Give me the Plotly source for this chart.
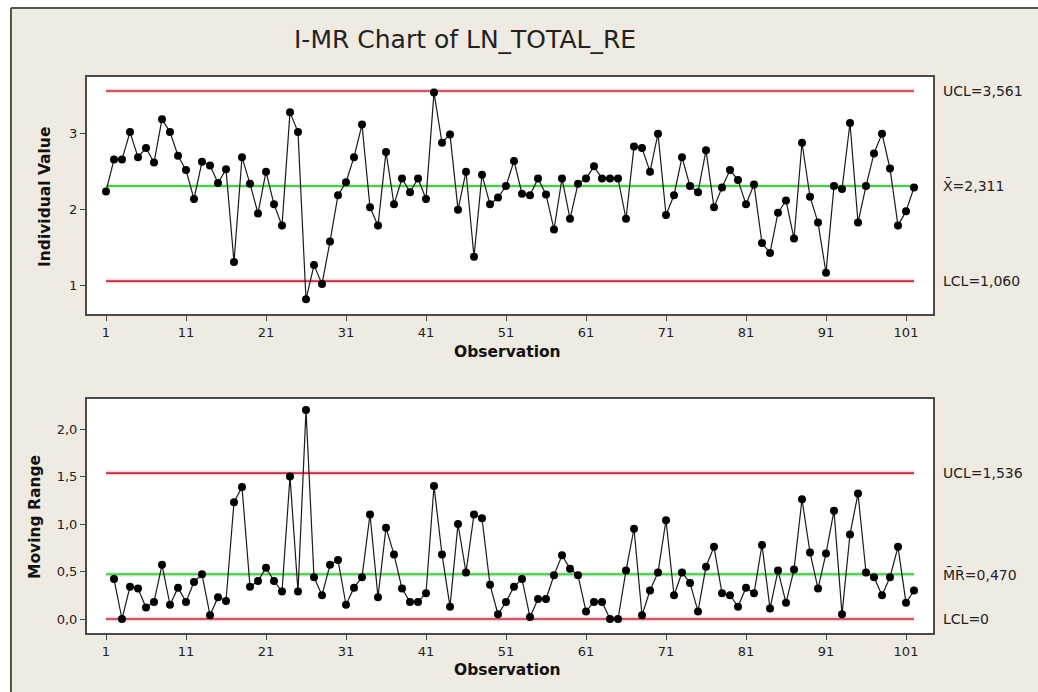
import plotly.graph_objects as go

# ---------------- data ----------------
observations = list(range(1, 103))

individual_values = [
    2.24, 2.66, 2.66, 3.02, 2.69, 2.81, 2.62, 3.19, 3.02, 2.71,
    2.52, 2.14, 2.63, 2.58, 2.35, 2.53, 1.31, 2.69, 2.34, 1.95,
    2.50, 2.07, 1.79, 3.28, 3.02, 0.82, 1.27, 1.02, 1.58, 2.19,
    2.36, 2.69, 3.12, 2.03, 1.79, 2.76, 2.07, 2.41, 2.23, 2.41,
    2.14, 3.54, 2.88, 2.99, 2.00, 2.50, 1.38, 2.46, 2.07, 2.16,
    2.31, 2.64, 2.21, 2.19, 2.41, 2.20, 1.74, 2.41, 1.88, 2.34,
    2.41, 2.57, 2.41, 2.41, 2.41, 1.88, 2.83, 2.81, 2.50, 3.00,
    1.93, 2.19, 2.69, 2.31, 2.23, 2.78, 2.03, 2.29, 2.52, 2.39,
    2.07, 2.33, 1.56, 1.43, 1.96, 2.12, 1.62, 2.88, 2.17, 1.83,
    1.17, 2.31, 2.27, 3.14, 1.83, 2.31, 2.74, 3.00, 2.54, 1.79,
    1.98, 2.29,
]

moving_ranges = [
    0.42, 0.00, 0.34, 0.32, 0.12, 0.18, 0.57, 0.15, 0.33,
    0.18, 0.39, 0.47, 0.04, 0.23, 0.19, 1.23, 1.39, 0.34, 0.40,
    0.54, 0.40, 0.29, 1.50, 0.29, 2.20, 0.44, 0.25, 0.57, 0.62,
    0.15, 0.33, 0.44, 1.10, 0.23, 0.96, 0.68, 0.32, 0.18, 0.18,
    0.27, 1.40, 0.68, 0.13, 1.00, 0.49, 1.10, 1.06, 0.36, 0.05,
    0.18, 0.34, 0.42, 0.02, 0.21, 0.21, 0.46, 0.67, 0.53, 0.46,
    0.08, 0.18, 0.18, 0.00, 0.00, 0.51, 0.95, 0.04, 0.30, 0.49,
    1.04, 0.25, 0.49, 0.38, 0.08, 0.55, 0.76, 0.27, 0.25, 0.13,
    0.33, 0.27, 0.78, 0.11, 0.51, 0.17, 0.52, 1.26, 0.70, 0.32,
    0.69, 1.14, 0.05, 0.89, 1.32, 0.49, 0.44, 0.25, 0.44, 0.76,
    0.17, 0.30,
]
mr_observations = observations[1:]

i_ucl, i_center, i_lcl = 3.561, 2.311, 1.060
mr_ucl, mr_center, mr_lcl = 1.536, 0.470, 0.0

i_labels = ["UCL=3,561", "X\u0304=2,311", "LCL=1,060"]
mr_labels = ["UCL=1,536", "M\u0304R\u0304=0,470", "LCL=0"]

x_tickvals = [1, 11, 21, 31, 41, 51, 61, 71, 81, 91, 101]
i_tickvals = [1, 2, 3]
i_ticktext = ["1", "2", "3"]
mr_tickvals = [0.0, 0.5, 1.0, 1.5, 2.0]
mr_ticktext = ["0,0", "0,5", "1,0", "1,5", "2,0"]

title_text = "I-MR Chart of LN_TOTAL_RE"

# ---------------- styling / layout ----------------
W, H = 1038, 692
BG = "#EFEBE2"
FONT = "DejaVu Sans"
AXIS_COLOR = "#4a4a4a"
RED = "#B8303F"
RED_HALO = "rgba(235,140,165,0.35)"
GREEN = "#55C455"
GREEN_HALO = "rgba(140,225,140,0.35)"


def px(xp):
    return xp / W


def py(yp):
    return 1 - yp / H


fig = go.Figure()

x_span = [observations[0], observations[-1]]


def add_panel(xs, ys, limits, xaxis, yaxis):
    ucl, cen, lcl = limits
    for val, col, halo, w in [(ucl, RED, RED_HALO, 1.6), (lcl, RED, RED_HALO, 1.6),
                              (cen, GREEN, GREEN_HALO, 2.0)]:
        fig.add_trace(go.Scatter(x=x_span, y=[val, val], mode="lines",
                                 line=dict(color=halo, width=5), hoverinfo="skip",
                                 showlegend=False, xaxis=xaxis, yaxis=yaxis))
        fig.add_trace(go.Scatter(x=x_span, y=[val, val], mode="lines",
                                 line=dict(color=col, width=w), hoverinfo="skip",
                                 showlegend=False, xaxis=xaxis, yaxis=yaxis))
    fig.add_trace(go.Scatter(x=xs, y=ys, mode="lines+markers",
                             line=dict(color="#1a1a1a", width=1.2),
                             marker=dict(color="#000000", size=8),
                             showlegend=False, xaxis=xaxis, yaxis=yaxis))


add_panel(observations, individual_values, (i_ucl, i_center, i_lcl), "x", "y")
add_panel(mr_observations, moving_ranges, (mr_ucl, mr_center, mr_lcl), "x2", "y2")

# plot-area geometry in pixels
L, R = 87, 933
T1, B1 = 77, 314
T2, B2 = 399, 633

# x: obs 1 at pixel 106, 8 px per observation
x_range = [1 - (106 - L) / 8.0, 1 + (R - 106) / 8.0]
# top y: 2.311 at pixel 186, 76 px per unit
i_range = [i_center - (B1 - 186) / 76.0, i_center + (186 - T1) / 76.0]
# bottom y: 0 at pixel 619, 95 px per unit
mr_range = [-(B2 - 619) / 95.0, (619 - T2) / 95.0]

tick_font = dict(family=FONT, size=13, color="#222222")
axis_common = dict(showgrid=False, zeroline=False, showline=True, mirror=True,
                   linecolor=AXIS_COLOR, linewidth=2, ticks="outside",
                   ticklen=5, tickwidth=1, tickcolor=AXIS_COLOR,
                   tickfont=tick_font, fixedrange=True)

fig.update_layout(
    width=W, height=H,
    margin=dict(l=0, r=0, t=0, b=0),
    paper_bgcolor=BG,
    plot_bgcolor="white",
    xaxis=dict(domain=[px(L), px(R)], range=x_range, tickvals=x_tickvals,
               anchor="y", **axis_common),
    yaxis=dict(domain=[py(B1), py(T1)], range=i_range, tickvals=i_tickvals,
               ticktext=i_ticktext, anchor="x", **axis_common),
    xaxis2=dict(domain=[px(L), px(R)], range=x_range, tickvals=x_tickvals,
                anchor="y2", **axis_common),
    yaxis2=dict(domain=[py(B2), py(T2)], range=mr_range, tickvals=mr_tickvals,
                ticktext=mr_ticktext, anchor="x2", **axis_common),
    showlegend=False,
)

# window frame: white margin at left/top with a dark border line
fig.add_shape(type="rect", xref="paper", yref="paper",
              x0=0, x1=px(10), y0=0, y1=1,
              fillcolor="white", line=dict(width=0), layer="below")
fig.add_shape(type="rect", xref="paper", yref="paper",
              x0=0, x1=1, y0=py(7), y1=1,
              fillcolor="white", line=dict(width=0), layer="below")
fig.add_shape(type="line", xref="paper", yref="paper",
              x0=px(11), x1=px(11), y0=0, y1=py(8),
              line=dict(color="#555555", width=2))
fig.add_shape(type="line", xref="paper", yref="paper",
              x0=px(11), x1=1, y0=py(8), y1=py(8),
              line=dict(color="#555555", width=2))

annotations = []
annotations.append(dict(text=title_text, xref="paper", yref="paper",
                        x=px(465), y=py(40), xanchor="center", yanchor="middle",
                        showarrow=False,
                        font=dict(family=FONT, size=25, color="#222222")))

for val, lab in zip([i_ucl, i_center, i_lcl], i_labels):
    annotations.append(dict(text=lab, xref="paper", yref="y", x=px(941), y=val,
                            xanchor="left", yanchor="middle", showarrow=False,
                            font=dict(family=FONT, size=14, color="#222222")))
for val, lab in zip([mr_ucl, mr_center, mr_lcl], mr_labels):
    annotations.append(dict(text=lab, xref="paper", yref="y2", x=px(941), y=val,
                            xanchor="left", yanchor="middle", showarrow=False,
                            font=dict(family=FONT, size=14, color="#222222")))

bold = dict(family=FONT, size=15.5, color="#111111")
annotations.append(dict(text="<b>Individual Value</b>", xref="paper", yref="paper",
                        x=px(45), y=py(197), textangle=-90, showarrow=False,
                        xanchor="center", yanchor="middle", font=bold))
annotations.append(dict(text="<b>Moving Range</b>", xref="paper", yref="paper",
                        x=px(35), y=py(517), textangle=-90, showarrow=False,
                        xanchor="center", yanchor="middle", font=bold))
annotations.append(dict(text="<b>Observation</b>", xref="paper", yref="paper",
                        x=px(507), y=py(352), showarrow=False,
                        xanchor="center", yanchor="middle", font=bold))
annotations.append(dict(text="<b>Observation</b>", xref="paper", yref="paper",
                        x=px(507), y=py(670), showarrow=False,
                        xanchor="center", yanchor="middle", font=bold))

fig.update_layout(annotations=annotations)

fig.write_html(
    "out.html",
    config={"displayModeBar": False},
    post_script="document.body.style.margin='0';document.body.style.overflow='hidden';",
)
